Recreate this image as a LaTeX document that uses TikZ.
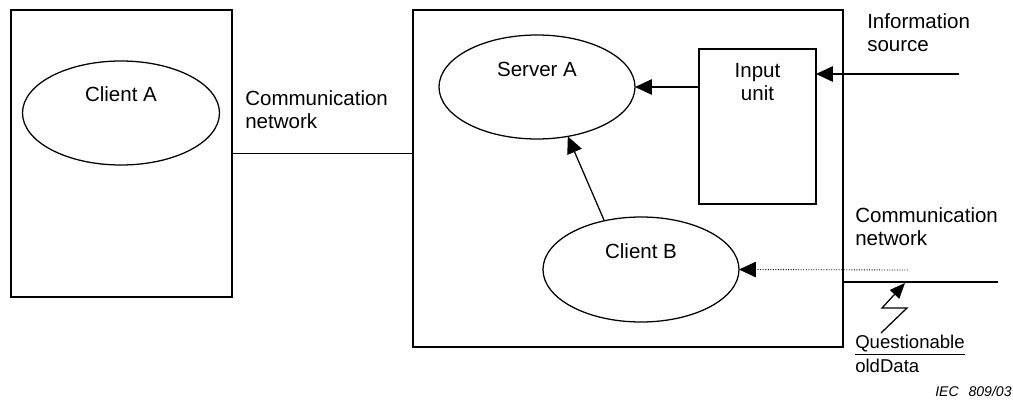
\documentclass[tikz,border=0pt]{standalone}
\usepackage{fontspec}
\setmainfont{Liberation Sans}
\usetikzlibrary{arrows.meta,shapes.geometric}
\newcommand\mainsize{\fontsize{14.6}{16.4}\selectfont}
\newcommand\notesize{\fontsize{13.2}{16.4}\selectfont}
\tikzset{
	unit/.style = {draw, line width=0.9pt, inner sep=0pt, outer sep=0pt},
	proc/.style = {ellipse, draw, line width=0.9pt, inner sep=0pt, outer sep=0pt},
	txt/.style = {inner sep=0pt, anchor=base west, align=left, font=\mainsize},
	feed/.style = {-{Triangle[length=12pt,width=11pt]}, line width=0.9pt},
	wire/.style = {line width=0.9pt}
}
\begin{document}
\begin{tikzpicture}[x=0.025cm, y=-0.025cm]
	\useasboundingbox (0,0) rectangle (1013,400);
	% boxes
	\node[unit, minimum width=221*0.025cm, minimum height=287*0.025cm] (leftbox) at (121.5,153.5) {};
	\node[unit, minimum width=430*0.025cm, minimum height=337*0.025cm] (sysbox) at (628,178.5) {};
	\node[unit, minimum width=117*0.025cm, minimum height=155*0.025cm] (input) at (757.5,126.5) {};
	% ellipses
	\node[proc, minimum width=197*0.025cm, minimum height=104*0.025cm] (clientA) at (121,113) {};
	\node[proc, minimum width=196*0.025cm, minimum height=104*0.025cm] (serverA) at (537,87) {};
	\node[proc, minimum width=196*0.025cm, minimum height=105*0.025cm] (clientB) at (641,269.5) {};
	% texts (base = last line)
	\node[txt, anchor=base] (clientAtxt) at (121,102) {Client A};
	\node[txt, anchor=base] (serverAtxt) at (537,77) {Server A};
	\node[txt, anchor=base] (clientBtxt) at (641,258) {Client B};
	\node[txt, anchor=base, align=center] (inputtxt) at (757.5,101) {Input\\unit};
	\node[txt] (netleft) at (245,129) {Communication\\network};
	\node[txt] (infotxt) at (867,52) {Information\\source};
	\node[txt] (netright) at (855,246) {Communication\\network};
	\node[txt, font=\notesize] (oldtxt) at (855,372) {\underline{Questionable}\\oldData};
	\node[txt, font=\fontsize{10}{11}\selectfont\itshape] (iec) at (935,396) {IEC\hspace{7pt}809/03};
	% connections
	\coordinate (infoin) at (959,74);
	\coordinate (dotin) at (908,270);
	\coordinate (netend) at (998,282);
	\draw[wire] (leftbox.east) -- (leftbox.east -| sysbox.west);
	\draw[feed] (input.west |- serverA.east) -- (serverA.east);
	\draw[feed] (infoin) -- (infoin -| input.east);
	\draw[feed] (clientB.127.3) -- (serverA.-58);
	\draw[feed, line width=0.6pt, dash pattern=on 0.7pt off 1.1pt] (dotin) -- (clientB.east);
	\draw[wire] (netend -| sysbox.east) -- (netend);
	\draw[feed, -{Triangle[length=11pt,width=9pt]}] (881,333) -- (907,308) -- (882,308) -- (905,283);
\end{tikzpicture}
\end{document}
